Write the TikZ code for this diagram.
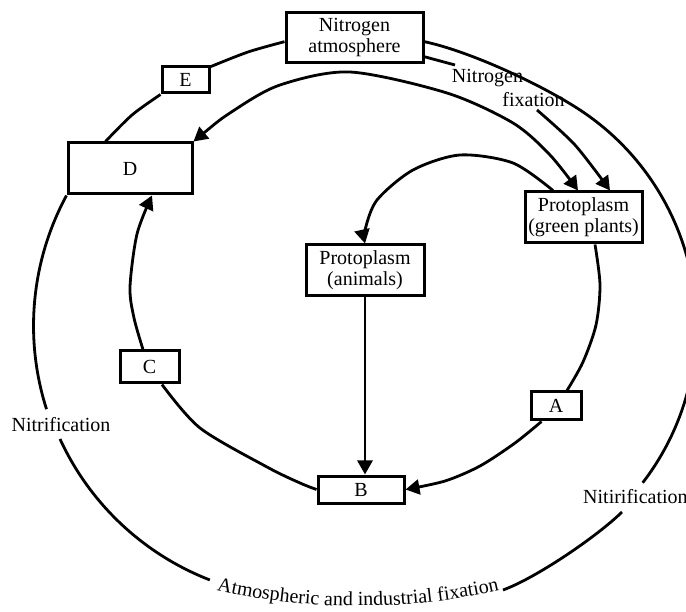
\documentclass[tikz,border=0pt]{standalone}
\usepackage{fontspec}
\setmainfont{Liberation Serif}
\usetikzlibrary{arrows.meta,decorations.text,calc}
\begin{document}
\begin{tikzpicture}[x=1pt,y=1pt,
  box/.style={draw, line width=3pt, inner sep=0pt, align=center, font=\fontsize{20}{21}\selectfont},
  lbl/.style={inner sep=0pt, font=\fontsize{20}{21}\selectfont},
  ln/.style={line width=2.8pt},
  arr/.style={-{Triangle[length=14pt,width=15pt]}},
  arrboth/.style={{Triangle[length=14pt,width=15pt]}-{Triangle[length=14pt,width=15pt]}},
]
\useasboundingbox (0,0) rectangle (686,-612);
\clip (0,0) rectangle (686,-612);
\fill[white] (0,0) rectangle (686,-612);

% boxes
\node[box, minimum width=137pt, minimum height=50pt] (atm) at (354.5,-38) {Nitrogen\\atmosphere};
\node[box, minimum width=47pt, minimum height=26pt] (E) at (185.5,-80) {E};
\node[box, minimum width=124pt, minimum height=51pt] (D) at (130,-168.5) {D};
\node[box, minimum width=117pt, minimum height=51pt] (G) at (583.5,-217.5) {Protoplasm\\(green plants)};
\node[box, minimum width=118pt, minimum height=51pt] (An) at (365,-270.5) {Protoplasm\\(animals)};
\node[box, minimum width=59pt, minimum height=32pt] (C) at (149.5,-367) {C};
\node[box, minimum width=86pt, minimum height=27pt] (B) at (361,-489.5) {B};
\node[box, minimum width=50pt, minimum height=28pt] (A) at (556,-406) {A};

% labels
\node[lbl] (nf1) at (487.5,-78) {Nitrogen};
\node[lbl] (nf2) at (533.5,-100) {fixation};
\node[lbl] (nitl) at (61,-425) {Nitrification};
\node[lbl, anchor=west] (nitr) at (583,-497) {Nitirification};

% helper coordinates on box borders
\coordinate (Dtop) at ([xshift=39pt]D.north west);
\coordinate (Gn2) at ([xshift=26.5pt]G.north);
\coordinate (Gn1) at ([xshift=-5.5pt]G.north);
\coordinate (Gi) at ([xshift=-30.5pt]G.north);
\coordinate (Gs) at ([xshift=11.5pt]G.south);
\coordinate (At) at ([xshift=11pt]A.north);
\coordinate (Ab) at ([xshift=12pt]A.south west);
\coordinate (Cb) at ([xshift=12.5pt]C.south);
\coordinate (Ct) at ([xshift=-6.5pt]C.north);
\coordinate (Db) at ([xshift=22pt]D.south);
\coordinate (Bn) at (An.south |- B.north);
\coordinate (nitlTop) at (50,-407);
\coordinate (nitlBot) at (60,-439);
\coordinate (txtL) at (210,-580);
\coordinate (txtR) at (503,-590);
\coordinate (nitrTop) at (643,-483);
\coordinate (nitrBot) at (622,-512);
\coordinate (nfA) at (455,-65);
\coordinate (nfB) at (537,-110);

% outer ring
\draw[ln] plot[smooth] coordinates {(atm.183) (248,-52) (E.28)};
\draw[ln] plot[smooth] coordinates {(E.south west) (132,-115) (Dtop)};
\draw[ln] (D.south west) arc[start angle=151.6, end angle=197.7, radius=274];
\draw[ln] (nitlBot) arc[start angle=204.7, end angle=248.8, radius=274];
\draw[ln] (txtR) .. controls (536,-578) and (597,-536.5) .. (nitrBot);
\draw[ln] (atm.-3) .. controls (472,-52) and (542.4,-85.3) .. (580,-110)
  arc[start angle=56.7, end angle=-37.6, radius=257.8];
\path[decorate, decoration={text along path, text={|\fontsize{20}{20}\selectfont|Atmospheric and industrial fixation}, text align=center}]
  (358,41) ++(257:647) arc[start angle=257, end angle=283, radius=647];

% nitrogen fixation
\draw[ln] (atm.-15) -- (nfA);
\draw[ln, arr] plot[smooth] coordinates {(nfB) (575,-145) (Gn2)};

% middle arc D <-> green plants
\draw[ln, arrboth] plot[smooth] coordinates {(D.north east) (233,-111) (280,-85) (350,-72) (447,-93) (513,-123) (550,-155) (Gn1)};

% inner arc green plants -> animals
\draw[ln, arr] plot[smooth] coordinates {(Gi) (513,-163) (460,-155) (413,-170) (377,-200) (365,-230) (An.north)};

% animals -> B
\draw[ln, arr] (An.south) -- (Bn);

% green plants -> A -> B
\draw[ln] plot[smooth] coordinates {(Gs) (600,-285) (596,-325) (583,-362) (At)};
\draw[ln, arr] plot[smooth] coordinates {(Ab) (515,-443) (480,-466) (445,-481) (B.east)};

% B -> C -> D
\draw[ln] plot[smooth] coordinates {(B.west) (300,-483) (267,-467) (200,-428) (Cb)};
\draw[ln, arr] plot[smooth] coordinates {(Ct) (134,-318) (130,-287) (137,-234) (Db)};
\end{tikzpicture}
\end{document}
